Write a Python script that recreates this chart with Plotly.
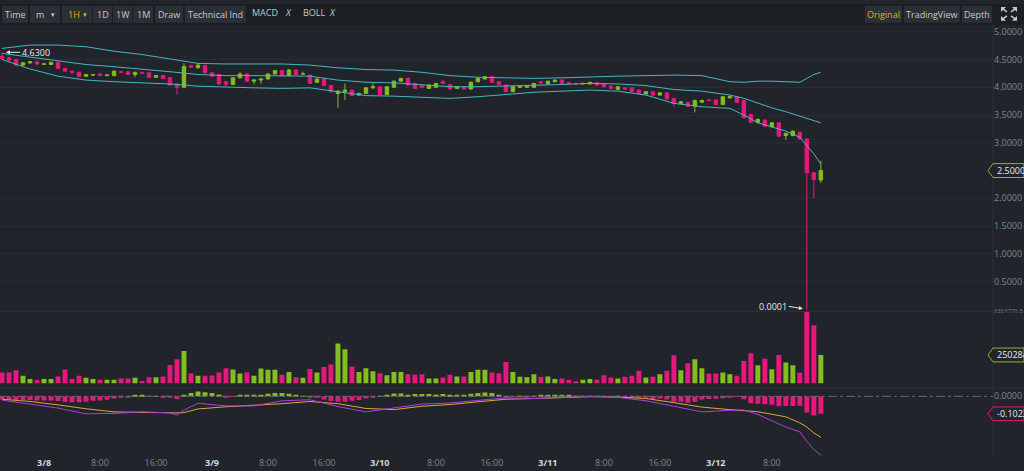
import pandas as pd
import plotly.graph_objects as go

# hourly candles, 3/7 18:00 -> 3/12 15:00
opens = [4.56, 4.53, 4.50, 4.40, 4.44, 4.46, 4.415, 4.41, 4.45, 4.34,
         4.29, 4.27, 4.20, 4.22, 4.24, 4.21, 4.21, 4.28, 4.28, 4.23,
         4.27, 4.26, 4.18, 4.21, 4.17, 4.06, 4.00, 4.39, 4.35, 4.39,
         4.26, 4.23, 4.10, 4.05, 4.17, 4.24, 4.11, 4.13, 4.15, 4.24,
         4.30, 4.21, 4.31, 4.24, 4.22, 4.09, 4.15, 4.03, 3.89, 3.92,
         3.95, 3.86, 3.89, 3.99, 4.01, 3.87, 4.00, 4.11, 4.16, 4.07,
         4.03, 3.98, 4.00, 4.10, 4.05, 3.98, 4.00, 3.97, 4.10, 4.15,
         4.19, 4.10, 4.04, 3.92, 4.00, 4.00, 4.00, 4.10, 4.06, 4.10,
         4.13, 4.08, 4.07, 4.06, 4.06, 4.08, 4.06, 4.02, 3.96, 3.99,
         3.99, 3.95, 3.88, 3.92, 3.86, 3.90, 3.80, 3.71, 3.73, 3.66,
         3.73, 3.77, 3.77, 3.69, 3.81, 3.83, 3.76, 3.51, 3.37, 3.41,
         3.29, 3.36, 3.13, 3.13, 3.19, 3.07, 2.46, 2.33]
highs = [4.63, 4.55, 4.51, 4.45, 4.47, 4.47, 4.43, 4.46, 4.46, 4.35,
         4.30, 4.28, 4.24, 4.24, 4.25, 4.23, 4.30, 4.29, 4.29, 4.28,
         4.28, 4.27, 4.22, 4.22, 4.18, 4.07, 4.43, 4.40, 4.42, 4.41,
         4.27, 4.24, 4.11, 4.18, 4.27, 4.25, 4.14, 4.16, 4.25, 4.31,
         4.31, 4.33, 4.32, 4.28, 4.23, 4.16, 4.16, 4.04, 3.95, 4.07,
         3.96, 3.90, 4.00, 4.07, 4.02, 4.02, 4.12, 4.17, 4.18, 4.08,
         4.04, 4.05, 4.08, 4.13, 4.06, 4.02, 4.01, 4.10, 4.17, 4.20,
         4.20, 4.11, 4.05, 4.02, 4.02, 4.03, 4.08, 4.11, 4.12, 4.14,
         4.14, 4.09, 4.08, 4.08, 4.10, 4.09, 4.07, 4.03, 4.02, 4.00,
         4.00, 3.96, 3.93, 3.93, 3.91, 3.91, 3.81, 3.75, 3.74, 3.78,
         3.78, 3.79, 3.78, 3.84, 3.85, 3.84, 3.77, 3.52, 3.44, 3.42,
         3.37, 3.37, 3.18, 3.22, 3.20, 3.08, 2.47, 2.68]
lows = [4.50, 4.47, 4.38, 4.38, 4.42, 4.40, 4.40, 4.40, 4.33, 4.28,
        4.23, 4.18, 4.19, 4.21, 4.20, 4.20, 4.20, 4.26, 4.22, 4.18,
        4.24, 4.17, 4.17, 4.15, 4.03, 3.87, 3.99, 4.35, 4.34, 4.25,
        4.19, 4.05, 4.02, 4.04, 4.16, 4.10, 4.05, 4.06, 4.14, 4.23,
        4.20, 4.20, 4.22, 4.22, 4.06, 4.08, 4.02, 3.90, 3.63, 3.77,
        3.84, 3.85, 3.88, 3.97, 3.86, 3.86, 3.99, 4.10, 4.03, 3.97,
        3.99, 3.97, 3.99, 4.06, 3.96, 3.97, 3.96, 3.96, 4.09, 4.14,
        4.08, 4.04, 3.91, 3.91, 3.99, 3.99, 3.99, 4.07, 4.05, 4.09,
        4.06, 4.06, 4.05, 4.05, 4.05, 4.03, 4.00, 3.97, 3.95, 3.96,
        3.91, 3.88, 3.87, 3.85, 3.85, 3.78, 3.65, 3.70, 3.65, 3.55,
        3.72, 3.75, 3.68, 3.68, 3.80, 3.72, 3.44, 3.36, 3.35, 3.29,
        3.27, 3.11, 3.05, 3.12, 3.06, 0.0001, 2.00, 2.28]
closes = [4.52, 4.49, 4.40, 4.44, 4.46, 4.42, 4.42, 4.45, 4.34, 4.29,
          4.27, 4.19, 4.23, 4.225, 4.21, 4.22, 4.29, 4.27, 4.23, 4.27,
          4.25, 4.18, 4.21, 4.16, 4.04, 4.00, 4.375, 4.36, 4.40, 4.26,
          4.20, 4.06, 4.05, 4.17, 4.24, 4.11, 4.13, 4.15, 4.24, 4.30,
          4.21, 4.31, 4.23, 4.245, 4.07, 4.15, 4.03, 3.92, 3.93, 3.95,
          3.85, 3.89, 3.99, 4.01, 3.87, 4.01, 4.11, 4.16, 4.04, 3.98,
          4.00, 4.04, 4.07, 4.07, 3.97, 4.01, 3.97, 4.09, 4.16, 4.19,
          4.09, 4.05, 3.92, 4.01, 4.01, 4.02, 4.07, 4.08, 4.11, 4.13,
          4.07, 4.065, 4.06, 4.07, 4.09, 4.04, 4.01, 3.98, 4.01, 3.97,
          3.92, 3.89, 3.92, 3.86, 3.90, 3.79, 3.71, 3.74, 3.66, 3.76,
          3.76, 3.76, 3.69, 3.83, 3.83, 3.73, 3.45, 3.37, 3.42, 3.30,
          3.36, 3.12, 3.17, 3.21, 3.07, 2.46, 2.34, 2.50]
volumes = [950000, 950000, 1160000, 660000, 370000, 280000, 370000, 370000, 600000, 1210000,
           370000, 660000, 480000, 370000, 300000, 300000, 300000, 420000, 420000, 480000,
           190000, 540000, 540000, 600000, 1620000, 2120000, 2850000, 860000, 660000, 660000,
           690000, 950000, 1330000, 1210000, 860000, 950000, 660000, 1300000, 1190000, 1190000,
           750000, 1000000, 540000, 480000, 1270000, 950000, 1450000, 1650000, 3530000, 3000000,
           1480000, 1000000, 1330000, 1070000, 890000, 720000, 1000000, 1000000, 800000, 750000,
           800000, 420000, 420000, 510000, 750000, 600000, 600000, 1000000, 1190000, 1190000,
           950000, 890000, 1890000, 1000000, 570000, 540000, 800000, 570000, 600000, 370000,
           420000, 300000, 160000, 300000, 370000, 300000, 720000, 510000, 420000, 570000,
           660000, 1100000, 510000, 570000, 800000, 1100000, 2470000, 1160000, 1770000, 2120000,
           1330000, 860000, 860000, 950000, 800000, 660000, 1980000, 2650000, 1590000, 2180000,
           1240000, 2500000, 1830000, 1590000, 950000, 6364776.5, 5140000, 2502840]
macd_hist = [-0.019, -0.019, -0.022, -0.022, -0.022, -0.024, -0.024, -0.024, -0.028, -0.032,
             -0.035, -0.035, -0.032, -0.026, -0.024, -0.020, -0.013, -0.009, -0.006, 0.004,
             0.004, -0.002, 0.002, -0.006, -0.009, -0.017, 0.009, 0.020, 0.028, 0.024,
             0.020, 0.011, -0.006, -0.002, 0.006, 0.006, 0.006, 0.009, 0.015, 0.019,
             0.019, 0.015, 0.009, 0.002, -0.004, -0.009, -0.019, -0.028, -0.032, -0.032,
             -0.026, -0.022, -0.013, -0.006, 0.002, 0.009, 0.017, 0.017, 0.009, 0.013,
             0.013, 0.013, 0.011, 0.013, 0.009, 0.009, 0.006, 0.015, 0.020, 0.022,
             0.020, 0.006, -0.006, -0.001, 0.001, -0.004, 0.002, 0.006, 0.009, 0.009,
             0.006, 0.004, 0.002, 0.002, 0.001, 0.001, -0.001, -0.001, 0.001, -0.004,
             -0.006, -0.009, -0.009, -0.017, -0.013, -0.019, -0.032, -0.032, -0.037, -0.032,
             -0.018, -0.016, -0.014, -0.012, -0.003, -0.001, -0.017, -0.041, -0.043, -0.046,
             -0.050, -0.058, -0.056, -0.056, -0.055, -0.095, -0.112, -0.1022]

# BOLL lines, read at these candle indices
boll_idx = [0, 4, 8, 12, 16, 20, 24, 28, 32, 36, 40, 44, 48, 52, 56, 60, 64, 68, 72, 76,
            80, 84, 88, 92, 96, 100, 104, 106, 108, 110, 112, 114, 115, 116, 117]
boll_up = [4.70, 4.76, 4.76, 4.73, 4.65, 4.59, 4.51, 4.43, 4.42, 4.42, 4.42, 4.40, 4.35, 4.32,
           4.31, 4.27, 4.21, 4.18, 4.17, 4.16, 4.17, 4.19, 4.20, 4.21, 4.22, 4.21, 4.10, 4.09,
           4.11, 4.11, 4.10, 4.09, 4.16, 4.23, 4.27]
boll_mid = [4.61, 4.54, 4.47, 4.41, 4.37, 4.33, 4.28, 4.23, 4.21, 4.21, 4.21, 4.20, 4.13, 4.09,
            4.08, 4.05, 4.01, 4.01, 4.02, 4.04, 4.05, 4.07, 4.06, 4.03, 3.96, 3.93, 3.86, 3.80,
            3.71, 3.63, 3.56, 3.48, 3.44, 3.40, 3.36]
boll_low = [4.50, 4.33, 4.20, 4.13, 4.10, 4.08, 4.06, 4.02, 4.00, 3.99, 3.98, 3.99, 3.92, 3.85,
            3.84, 3.82, 3.80, 3.83, 3.87, 3.91, 3.93, 3.95, 3.93, 3.86, 3.71, 3.65, 3.62, 3.50,
            3.36, 3.28, 3.21, 3.10, 2.95, 2.80, 2.62]

# MACD lines, read at these candle indices
macd_idx = [0, 4, 8, 12, 16, 20, 24, 25, 26, 28, 32, 36, 40, 44, 48, 52, 56, 60, 64, 68, 72,
            76, 80, 84, 88, 92, 96, 100, 104, 106, 108, 110, 112, 114, 115, 116, 117]
dif = [-0.022, -0.045, -0.069, -0.102, -0.100, -0.091, -0.097, -0.110, -0.080, -0.041, -0.056,
       -0.056, -0.026, -0.020, -0.060, -0.091, -0.069, -0.045, -0.039, -0.022, -0.009, -0.013,
       -0.007, 0.000, -0.006, -0.026, -0.058, -0.091, -0.082, -0.080, -0.106, -0.143, -0.180,
       -0.208, -0.264, -0.311, -0.344]
dea = [-0.017, -0.030, -0.050, -0.073, -0.091, -0.095, -0.097, -0.097, -0.095, -0.074, -0.061,
       -0.054, -0.043, -0.030, -0.043, -0.071, -0.078, -0.058, -0.048, -0.032, -0.017, -0.013,
       -0.009, -0.002, -0.004, -0.013, -0.037, -0.063, -0.078, -0.084, -0.090, -0.105, -0.120,
       -0.155, -0.180, -0.214, -0.240]

tick_times = ["2020-03-08 00:00", "2020-03-08 08:00", "2020-03-08 16:00",
              "2020-03-09 00:00", "2020-03-09 08:00", "2020-03-09 16:00",
              "2020-03-10 00:00", "2020-03-10 08:00", "2020-03-10 16:00",
              "2020-03-11 00:00", "2020-03-11 08:00", "2020-03-11 16:00",
              "2020-03-12 00:00", "2020-03-12 08:00"]
tick_labels = ["3/8", "8:00", "16:00", "3/9", "8:00", "16:00", "3/10", "8:00", "16:00",
               "3/11", "8:00", "16:00", "3/12", "8:00"]
price_ticks = [0.5, 1.0, 1.5, 2.0, 2.5, 3.0, 3.5, 4.0, 4.5, 5.0]

BG = "#21252b"
BAR_BG = "#1b1e23"
BTN = "#2b2f36"
GRID = "#292d33"
TXT = "#c5c9cf"
AXT = "#7f858e"
GREEN = "#84bd1f"
PINK = "#e8177b"
CYAN = "#46b6c2"
YELLOW = "#d9a83a"
PURPLE = "#b23be0"
GOLD = "#f0a81c"
W, H = 1024, 471
X_END = 993 / W


def px(x):
    return x / W


def py(y):
    return 1 - y / H


def label(x, y, text, size=9, color=TXT, anchor="center"):
    return dict(x=px(x), y=py(y), xref="paper", yref="paper", text=text, showarrow=False,
                xanchor=anchor, yanchor="middle", font=dict(size=size, color=color, family="Open Sans"))


times = pd.date_range("2020-03-07 18:00", periods=len(closes), freq="h")
hour = pd.Timedelta(hours=1)
x_range = [times[0] - 0.29 * hour, times[0] + 141.6 * hour]

fig = go.Figure()
fig.add_trace(go.Candlestick(
    x=times, open=opens, high=highs, low=lows, close=closes,
    increasing=dict(line=dict(color=GREEN, width=1), fillcolor=GREEN),
    decreasing=dict(line=dict(color=PINK, width=1), fillcolor=PINK),
    yaxis="y", showlegend=False, hoverinfo="skip"))
for band in (boll_up, boll_mid, boll_low):
    fig.add_trace(go.Scatter(x=times[boll_idx], y=band, mode="lines",
                             line=dict(color=CYAN, width=1), yaxis="y",
                             showlegend=False, hoverinfo="skip"))

vol_colors = [GREEN if c >= o else PINK for o, c in zip(opens, closes)]
fig.add_trace(go.Bar(x=times, y=volumes, width=2.55e6, yaxis="y2",
                     marker=dict(color=vol_colors, line=dict(width=0)),
                     showlegend=False, hoverinfo="skip"))

hist_colors = [GREEN if v >= 0 else PINK for v in macd_hist]
fig.add_trace(go.Bar(x=times, y=macd_hist, width=2.55e6, yaxis="y3",
                     marker=dict(color=hist_colors, line=dict(width=0)),
                     showlegend=False, hoverinfo="skip"))
fig.add_trace(go.Scatter(x=times[macd_idx], y=dea, mode="lines", yaxis="y3",
                         line=dict(color=YELLOW, width=1), showlegend=False, hoverinfo="skip"))
fig.add_trace(go.Scatter(x=times[macd_idx], y=dif, mode="lines", yaxis="y3",
                         line=dict(color=PURPLE, width=1), showlegend=False, hoverinfo="skip"))

tick_text = []
for t in tick_labels:
    if "/" in t:
        tick_text.append('<span style="color:#d4d8de"><b>%s</b></span>' % t)
    else:
        tick_text.append(t)

# the last price is shown by its tag, not by a plain tick label
shown_ticks = [t for t in price_ticks if abs(t - closes[-1]) > 1e-9]

# pane geometry (pixels from top)
price_top, price_bot = 22, 310
vol_top, vol_bot = 310, 386
macd_top, macd_bot = 388, 456

axis_font = dict(size=9, color=AXT, family="Open Sans")

shapes = []
annotations = []

# toolbar strip and buttons
shapes.append(dict(type="rect", xref="paper", yref="paper", x0=0, x1=1, y0=py(21), y1=1,
                   fillcolor=BAR_BG, line=dict(width=0), layer="below"))
buttons = [("Time", 2, 28, TXT), ("m", 30, 60, TXT), ("1H", 62, 92, GOLD), ("1D", 93, 112, TXT),
           ("1W", 113, 132, TXT), ("1M", 133, 153, TXT), ("Draw", 155, 183, TXT),
           ("Technical Ind", 185, 246, TXT),
           ("Original", 865, 902, GOLD), ("TradingView", 904, 960, TXT), ("Depth", 962, 992, TXT)]
for text, x0, x1, col in buttons:
    shapes.append(dict(type="rect", xref="paper", yref="paper", x0=px(x0), x1=px(x1),
                       y0=py(19), y1=py(2), fillcolor=BTN, line=dict(width=0), layer="below"))
    if text in ("m", "1H"):
        annotations.append(label(x0 + 4, 10.5, text, color=col, anchor="left"))
        annotations.append(label(x1 - 7, 10.5, "▾", size=7, color=col))
    else:
        annotations.append(label((x0 + x1) / 2, 10.5, text, color=col))
for text, xm, xx in (("MACD", 265, 288), ("BOLL", 314, 332)):
    annotations.append(label(xm, 9, text))
    annotations.append(label(xx, 9, "<i>X</i>"))

# expand icon
cx, cy = 1009, 10
for sx, sy in ((-1, -1), (1, -1), (-1, 1), (1, 1)):
    tipx, tipy = cx + sx * 8, cy + sy * 7
    shapes.append(dict(type="path", xref="paper", yref="paper", fillcolor=TXT, line=dict(width=0),
                       path="M %f,%f L %f,%f L %f,%f Z" % (px(tipx), py(tipy), px(tipx - sx * 5), py(tipy),
                                                          px(tipx), py(tipy - sy * 5))))
    shapes.append(dict(type="line", xref="paper", yref="paper", x0=px(cx + sx * 2), y0=py(cy + sy * 2),
                       x1=px(tipx - sx * 2), y1=py(tipy - sy * 2), line=dict(color=TXT, width=1.5)))

# pane separators
for yy in (vol_top, macd_top - 1):
    shapes.append(dict(type="line", xref="paper", yref="paper", x0=0, x1=1, y0=py(yy), y1=py(yy),
                       line=dict(color="#2c3037", width=1)))
shapes.append(dict(type="line", xref="paper", yref="paper", x0=X_END, x1=X_END, y0=py(458), y1=py(21),
                   line=dict(color="#2c3037", width=1)))

# MACD zero line
shapes.append(dict(type="line", xref="paper", yref="y3", x0=0, x1=X_END, y0=0, y1=0,
                   line=dict(color="#646a73", width=1, dash="dashdot")))


def tag(yref, val, half, text, color):
    x0, xp, x1 = px(988), px(993), px(1024)
    shapes.append(dict(type="path", xref="paper", yref=yref, fillcolor=BG, line=dict(color=color, width=1),
                       path="M %f,%f L %f,%f L %f,%f L %f,%f L %f,%f Z" % (
                           x0, val, xp, val + half, x1, val + half, x1, val - half, xp, val - half)))
    annotations.append(dict(x=px(995), y=val, xref="paper", yref=yref, text=text, showarrow=False,
                            xanchor="left", yanchor="middle",
                            font=dict(size=9, color="#e8eaed", family="Open Sans")))


tag("y", closes[-1], 0.125, "%.4f" % closes[-1], GREEN)
tag("y2", volumes[-1], 615000, "%d" % volumes[-1], GREEN)
tag("y3", macd_hist[-1], 0.04, "%.4f" % macd_hist[-1], PINK)

# max / min price markers
i_max = highs.index(max(highs))
i_min = lows.index(min(lows))
annotations.append(dict(x=times[i_max], y=highs[i_max], text="%.4f" % highs[i_max], showarrow=True,
                        ax=18, ay=0, xanchor="left", yanchor="middle", arrowhead=2, arrowsize=0.8,
                        arrowwidth=1, arrowcolor="#e8eaed", standoff=4,
                        font=dict(size=9, color="#e8eaed", family="Open Sans")))
annotations.append(dict(x=times[i_min], y=lows[i_min], text="%.4f" % lows[i_min], showarrow=True,
                        ax=-18, ay=-3, xanchor="right", yanchor="middle", arrowhead=2, arrowsize=0.8,
                        arrowwidth=1, arrowcolor="#e8eaed", standoff=4,
                        font=dict(size=9, color="#e8eaed", family="Open Sans")))

fig.update_layout(
    width=W, height=H, autosize=False,
    margin=dict(l=0, r=0, t=0, b=0),
    paper_bgcolor=BG, plot_bgcolor=BG,
    barmode="overlay", hovermode=False, showlegend=False,
    font=dict(family="Open Sans", color=AXT, size=9),
    xaxis=dict(domain=[0, X_END], range=x_range, anchor="y3", type="date",
               tickvals=tick_times, ticktext=tick_text, tickfont=axis_font,
               showgrid=False, zeroline=False, showline=False, ticks="",
               rangeslider=dict(visible=False), fixedrange=True),
    yaxis=dict(domain=[py(price_bot), py(price_top)], range=[-0.0357, 5.107], side="right", anchor="x",
               tickvals=shown_ticks, tickformat=".4f", tickfont=axis_font,
               showgrid=True, gridcolor=GRID, zeroline=False, showline=False, ticks=""),
    yaxis2=dict(domain=[py(vol_bot), py(vol_top)], range=[-307000, 6364776.5], side="right", anchor="x",
                tickvals=[6364776.5], ticktext=["6364776.5"], tickfont=dict(size=6, color=AXT),
                showgrid=False, zeroline=False, showline=False, ticks=""),
    yaxis3=dict(domain=[py(macd_bot), py(macd_top)], range=[-0.35, 0.0446], side="right", anchor="x",
                tickvals=[0], ticktext=["0.0000"], tickfont=axis_font,
                showgrid=False, zeroline=False, showline=False, ticks=""),
    shapes=shapes,
    annotations=annotations,
)

fig.write_html("out.html", config={"displayModeBar": False},
               post_script="document.body.style.margin='0';document.body.style.background='%s';" % BG)
